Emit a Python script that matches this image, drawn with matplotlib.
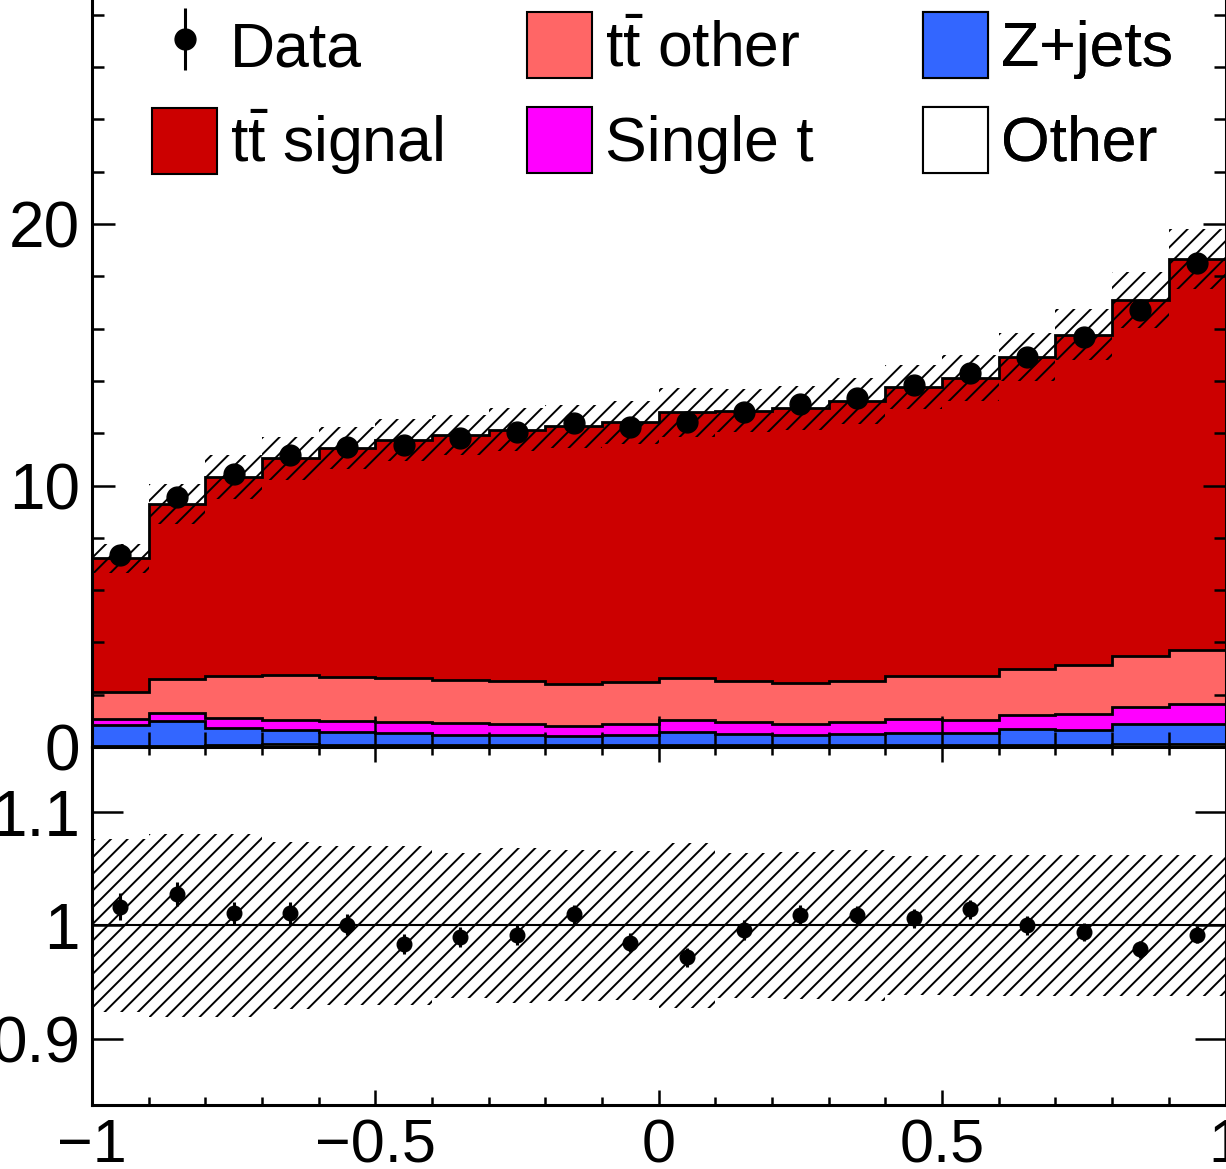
import numpy as np
import matplotlib.pyplot as plt
from matplotlib.patches import Patch
from matplotlib.ticker import MultipleLocator, FixedLocator, FuncFormatter

plt.rcParams["font.family"] = ["Liberation Sans", "DejaVu Sans"]
plt.rcParams["mathtext.fontset"] = "custom"
plt.rcParams["mathtext.rm"] = "Liberation Sans"
plt.rcParams["mathtext.it"] = "Liberation Sans:italic"
plt.rcParams["mathtext.bf"] = "Liberation Sans:bold"
plt.rcParams["hatch.linewidth"] = 1.4

# 20 bins between -1 and 1
bin_edges = np.round(np.arange(-1.0, 1.0001, 0.1), 2)
bin_centers = 0.5 * (bin_edges[:-1] + bin_edges[1:])

data = np.array([7.33, 9.55, 10.44, 11.16, 11.46, 11.55, 11.81, 12.04, 12.38, 12.23,
                 12.44, 12.80, 13.10, 13.34, 13.85, 14.32, 14.92, 15.67, 16.73, 18.51])
data_err = np.array([0.085, 0.10, 0.10, 0.105, 0.105, 0.105, 0.105, 0.105, 0.105, 0.105,
                     0.105, 0.11, 0.11, 0.11, 0.115, 0.115, 0.12, 0.125, 0.13, 0.14])

other = np.array([0.05, 0.05, 0.06, 0.12, 0.06, 0.06, 0.06, 0.06, 0.06, 0.06,
                  0.07, 0.07, 0.07, 0.07, 0.07, 0.07, 0.07, 0.08, 0.12, 0.10])
zjets = np.array([0.78, 0.94, 0.67, 0.54, 0.50, 0.48, 0.41, 0.40, 0.35, 0.40,
                  0.50, 0.41, 0.38, 0.41, 0.48, 0.48, 0.63, 0.58, 0.77, 0.79])
single_t = np.array([0.25, 0.32, 0.37, 0.37, 0.42, 0.42, 0.43, 0.42, 0.39, 0.42,
                     0.45, 0.48, 0.42, 0.46, 0.53, 0.47, 0.52, 0.60, 0.64, 0.77])
tt_other = np.array([1.02, 1.30, 1.60, 1.71, 1.70, 1.68, 1.66, 1.66, 1.61, 1.59,
                     1.61, 1.56, 1.58, 1.59, 1.62, 1.68, 1.75, 1.86, 1.95, 2.06])
tt_signal = np.array([5.11, 6.68, 7.63, 8.30, 8.77, 9.10, 9.37, 9.60, 9.85, 9.95,
                      10.17, 10.33, 10.53, 10.69, 11.06, 11.42, 11.95, 12.64, 13.61, 14.94])

# relative size of the hatched uncertainty band
syst_rel = np.array([0.076, 0.081, 0.081, 0.074, 0.070, 0.070, 0.064, 0.068, 0.067, 0.066,
                     0.073, 0.064, 0.065, 0.067, 0.061, 0.062, 0.062, 0.062, 0.062, 0.062])

# bottom to top of the stack
stack = [
    ("other", other, "white"),
    ("zjets", zjets, "#3366ff"),
    ("single_t", single_t, "#ff00ff"),
    ("tt_other", tt_other, "#ff6666"),
    ("tt_signal", tt_signal, "#cc0000"),
]

W, H = 1226, 1169
fig = plt.figure(figsize=(W / 100, H / 100), dpi=100)

left = 92 / W
width = (1225.5 - 92) / W
y_split = 1 - 747 / H
ax = fig.add_axes([left, y_split, width, (747 + 37.5) / H])
ax_r = fig.add_axes([left, 1 - 1105 / H, width, (1105 - 747) / H])

tops = np.cumsum([s[1] for s in stack], axis=0)
mc_total = tops[-1]
for i in range(len(stack) - 1, -1, -1):
    ax.stairs(tops[i], bin_edges, baseline=0, fill=True, facecolor=stack[i][2],
              edgecolor="black", linewidth=2.0)

unc = syst_rel * mc_total
ax.bar(bin_centers, 2 * unc, bottom=mc_total - unc, width=0.1, facecolor="none",
       edgecolor="black", hatch="//", linewidth=0)

h_data = ax.errorbar(bin_centers, data, yerr=data_err, fmt="o", color="black",
                     ms=15, elinewidth=2.2, capsize=0)

ax.set_xlim(-1, 1)
ax.set_ylim(0, 30)

# ratio panel
ratio = data / mc_total
ratio_err = data_err / mc_total
ax_r.bar(bin_centers, 2 * syst_rel, bottom=1 - syst_rel, width=0.1, facecolor="none",
         edgecolor="black", hatch="//", linewidth=0)
ax_r.axhline(1.0, color="black", linewidth=1.5)
ax_r.errorbar(bin_centers, ratio, yerr=ratio_err, fmt="o", color="black",
              ms=10.5, elinewidth=2.2, capsize=0)
ax_r.set_xlim(-1, 1)
ax_r.set_ylim(0.8416, 1.1575)

fmt = FuncFormatter(lambda v, p: f"{v:g}".replace("-", "\u2212"))

for a in (ax, ax_r):
    for sp in a.spines.values():
        sp.set_linewidth(2.2)
    a.xaxis.set_major_locator(MultipleLocator(0.5))
    a.xaxis.set_minor_locator(MultipleLocator(0.1))
    a.xaxis.set_major_formatter(fmt)
    a.yaxis.set_major_formatter(fmt)
    a.tick_params(which="both", direction="in", top=True, right=True, width=1.8)
    a.tick_params(axis="x", pad=9.4, labelsize=44)
    a.tick_params(axis="y", pad=8.6, labelsize=46)

ax.yaxis.set_major_locator(MultipleLocator(10))
ax.yaxis.set_minor_locator(MultipleLocator(2))
ax.tick_params(axis="y", which="major", length=16.6)
ax.tick_params(axis="y", which="minor", length=8.6)
ax.tick_params(axis="x", which="major", length=22)
ax.tick_params(axis="x", which="minor", length=11)
ax.tick_params(labelbottom=False)

ax_r.yaxis.set_major_locator(FixedLocator([0.9, 1.0, 1.1]))
ax_r.yaxis.set_minor_locator(FixedLocator([]))
ax_r.tick_params(axis="y", which="major", length=22)
ax_r.tick_params(axis="x", which="major", length=11)
ax_r.tick_params(axis="x", which="minor", length=5.8)

# legend in three columns
patches = {name: Patch(facecolor=c, edgecolor="black", linewidth=1.5) for name, _, c in stack}
leg_kw = dict(frameon=False, fontsize=45, handlelength=1.04, handleheight=1.248,
              handletextpad=0.208, labelspacing=0.445, borderpad=0, borderaxespad=0,
              loc="upper left", bbox_transform=fig.transFigure)
tt = r"$\mathrm{t\bar{t}}$"
columns = [
    ([h_data, patches["tt_signal"]], ["Data", tt + " signal"], 152),
    ([patches["tt_other"], patches["single_t"]], [tt + " other", "Single t"], 527),
    ([patches["zjets"], patches["other"]], ["Z+jets", "Other"], 923),
]
for handles, names, x0 in columns:
    leg = ax.legend(handles, names, bbox_to_anchor=(x0 / W, 1 - 12 / H), **leg_kw)
    ax.add_artist(leg)

fig.savefig("out.png", dpi=100)
